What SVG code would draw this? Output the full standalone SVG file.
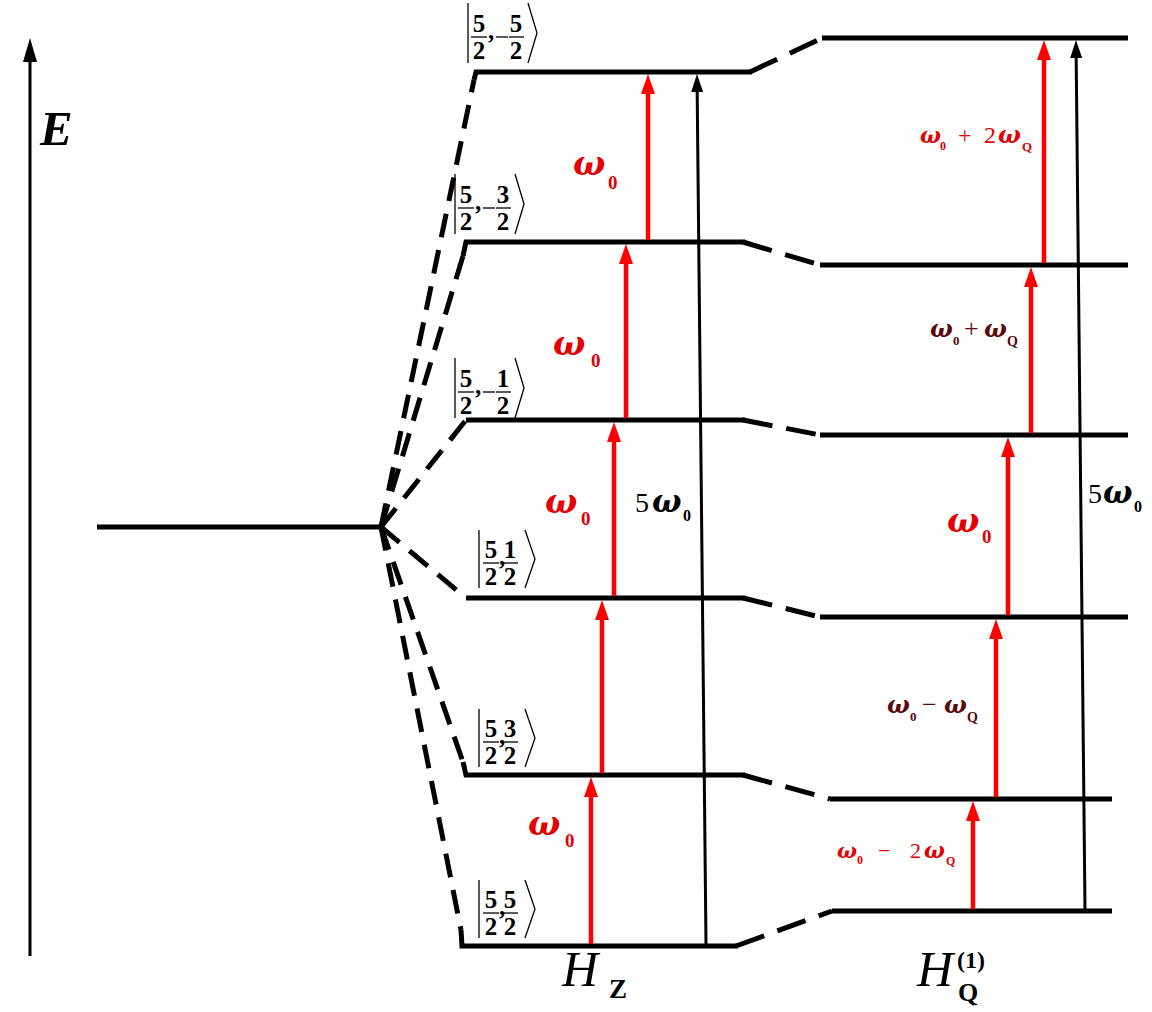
<svg xmlns="http://www.w3.org/2000/svg" width="1152" height="1012" viewBox="0 0 1152 1012">
  <style>
    text { font-family: "Liberation Serif", "Times New Roman", serif; }
    .level { stroke: #000; stroke-width: 5; fill: none; }
    .dash { stroke: #000; stroke-width: 5; fill: none; stroke-dasharray: 24 13; }
    .rdash { stroke: #000; stroke-width: 5; fill: none; stroke-dasharray: 30 14; }
    .red { stroke: #ff0000; stroke-width: 4.5; fill: none; }
    .blk { stroke: #000; stroke-width: 3; fill: none; }
    .thin { stroke: #000; stroke-width: 1.3; fill: none; }
    .kd { font-size: 25px; font-weight: bold; text-anchor: middle; }
    .w { font-family: "DejaVu Serif", "Liberation Serif", serif; font-style: italic; font-weight: bold; }
    .sub { font-weight: bold; }
    .lr { fill: #e30000; }
    .ld { fill: #5a0808; }
  </style>
  <defs>
    <marker id="ahRed" viewBox="0 0 20 14" markerWidth="20" markerHeight="14" markerUnits="userSpaceOnUse" refX="8" refY="7" orient="auto">
      <path d="M0,0 L20,7 L0,14 z" fill="#ff0000"/>
    </marker>
    <marker id="ahBlk" viewBox="0 0 18 12" markerWidth="18" markerHeight="12" markerUnits="userSpaceOnUse" refX="7" refY="6" orient="auto">
      <path d="M0,0 L18,6 L0,12 z" fill="#000"/>
    </marker>
  </defs>

  <!-- energy axis -->
  <g id="axis">
    <line x1="30" y1="956" x2="30" y2="58" stroke="#000" stroke-width="3"/>
    <path d="M23,62 L30,38 L37,62 z" fill="#000"/>
    <text x="40" y="145" font-size="49" font-style="italic" font-weight="bold">E</text>
  </g>

  <!-- unsplit level -->
  <g id="level-0">
    <line class="level" x1="97" y1="527" x2="382" y2="527"/>
  </g>

  <!-- Zeeman levels -->
  <g id="hz-m-5-2">
    <path class="level" d="M474,80 L476,72 H752"/>
    <g transform="translate(468,3)">
      <path class="thin" d="M0,0 V60"/>
      <text class="kd" x="11" y="29">5</text>
      <path class="thin" d="M3,34 H19"/>
      <text class="kd" x="11" y="56">2</text>
      <text class="kd" x="23" y="36">,</text>
      <path class="thin" d="M28,34 H40"/>
      <text class="kd" x="48" y="29">5</text>
      <path class="thin" d="M41,34 H56"/>
      <text class="kd" x="48" y="56">2</text>
      <path class="thin" d="M60,0 L69,30 L60,60"/>
    </g>
  </g>
  <g id="hz-m-3-2">
    <path class="level" d="M463,256 L466,242 H745"/>
    <g transform="translate(455,174)">
      <path class="thin" d="M0,0 V60"/>
      <text class="kd" x="11" y="29">5</text>
      <path class="thin" d="M3,34 H19"/>
      <text class="kd" x="11" y="56">2</text>
      <text class="kd" x="23" y="36">,</text>
      <path class="thin" d="M28,34 H40"/>
      <text class="kd" x="48" y="29">3</text>
      <path class="thin" d="M41,34 H56"/>
      <text class="kd" x="48" y="56">2</text>
      <path class="thin" d="M60,0 L69,30 L60,60"/>
    </g>
  </g>
  <g id="hz-m-1-2">
    <path class="level" d="M466,420 H745"/>
    <g transform="translate(455,358)">
      <path class="thin" d="M0,0 V60"/>
      <text class="kd" x="11" y="29">5</text>
      <path class="thin" d="M3,34 H19"/>
      <text class="kd" x="11" y="56">2</text>
      <text class="kd" x="23" y="36">,</text>
      <path class="thin" d="M28,34 H40"/>
      <text class="kd" x="48" y="29">1</text>
      <path class="thin" d="M41,34 H56"/>
      <text class="kd" x="48" y="56">2</text>
      <path class="thin" d="M60,0 L69,30 L60,60"/>
    </g>
  </g>
  <g id="hz-p-1-2">
    <path class="level" d="M466,598 H745"/>
    <g transform="translate(479,530)">
      <path class="thin" d="M0,0 V58"/>
      <text class="kd" x="12" y="28">5</text>
      <path class="thin" d="M4,33 H20"/>
      <text class="kd" x="12" y="55">2</text>
      <text class="kd" x="23" y="35">,</text>
      <path class="thin" d="M24,33 H39"/>
      <text class="kd" x="31" y="28">1</text>
      <text class="kd" x="31" y="55">2</text>
      <path class="thin" d="M46,0 L56,29 L46,58"/>
    </g>
  </g>
  <g id="hz-p-3-2">
    <path class="level" d="M463,762 L466,775 H745"/>
    <g transform="translate(479,709)">
      <path class="thin" d="M0,0 V58"/>
      <text class="kd" x="12" y="28">5</text>
      <path class="thin" d="M4,33 H20"/>
      <text class="kd" x="12" y="55">2</text>
      <text class="kd" x="23" y="35">,</text>
      <path class="thin" d="M24,33 H39"/>
      <text class="kd" x="31" y="28">3</text>
      <text class="kd" x="31" y="55">2</text>
      <path class="thin" d="M46,0 L56,29 L46,58"/>
    </g>
  </g>
  <g id="hz-p-5-2">
    <path class="level" d="M461,930 L462,946 H738"/>
    <g transform="translate(479,880)">
      <path class="thin" d="M0,0 V58"/>
      <text class="kd" x="12" y="28">5</text>
      <path class="thin" d="M4,33 H20"/>
      <text class="kd" x="12" y="55">2</text>
      <text class="kd" x="23" y="35">,</text>
      <path class="thin" d="M24,33 H39"/>
      <text class="kd" x="31" y="28">5</text>
      <text class="kd" x="31" y="55">2</text>
      <path class="thin" d="M46,0 L56,29 L46,58"/>
    </g>
  </g>

  <!-- quadrupole-shifted levels -->
  <g id="hq-m-5-2"><line class="level" x1="822" y1="38" x2="1128" y2="38"/></g>
  <g id="hq-m-3-2"><line class="level" x1="820" y1="265" x2="1128" y2="265"/></g>
  <g id="hq-m-1-2"><line class="level" x1="820" y1="435" x2="1128" y2="435"/></g>
  <g id="hq-p-1-2"><line class="level" x1="820" y1="617" x2="1128" y2="617"/></g>
  <g id="hq-p-3-2"><line class="level" x1="830" y1="799" x2="1112" y2="799"/></g>
  <g id="hq-p-5-2"><line class="level" x1="832" y1="911" x2="1112" y2="911"/></g>

  <g id="connectors">
    <!-- Zeeman splitting fan -->
    <line class="dash" x1="381" y1="527" x2="474" y2="80"/>
    <line class="dash" x1="381" y1="527" x2="463" y2="256"/>
    <line class="dash" x1="381" y1="527" x2="466" y2="420"/>
    <line class="dash" x1="381" y1="527" x2="466" y2="598"/>
    <line class="dash" x1="381" y1="527" x2="463" y2="762"/>
    <line class="dash" x1="381" y1="527" x2="461" y2="930"/>
    <!-- quadrupole shifts -->
    <line class="rdash" x1="750" y1="72" x2="822" y2="38"/>
    <line class="rdash" x1="743" y1="242" x2="820" y2="265"/>
    <line class="rdash" x1="743" y1="420" x2="820" y2="435"/>
    <line class="rdash" x1="743" y1="598" x2="820" y2="617"/>
    <line class="rdash" x1="743" y1="775" x2="830" y2="799"/>
    <line class="rdash" x1="736" y1="946" x2="832" y2="911"/>
    <!-- single-quantum transitions, Zeeman -->
    <line class="red" x1="591" y1="944" x2="591" y2="789" marker-end="url(#ahRed)"/>
    <line class="red" x1="602" y1="773" x2="602" y2="612" marker-end="url(#ahRed)"/>
    <line class="red" x1="614" y1="596" x2="614" y2="434" marker-end="url(#ahRed)"/>
    <line class="red" x1="626" y1="418" x2="626" y2="256" marker-end="url(#ahRed)"/>
    <line class="red" x1="648" y1="240" x2="648" y2="86" marker-end="url(#ahRed)"/>
    <!-- single-quantum transitions, quadrupole -->
    <line class="red" x1="973" y1="909" x2="973" y2="813" marker-end="url(#ahRed)"/>
    <line class="red" x1="996" y1="797" x2="996" y2="631" marker-end="url(#ahRed)"/>
    <line class="red" x1="1008" y1="615" x2="1008" y2="449" marker-end="url(#ahRed)"/>
    <line class="red" x1="1031" y1="433" x2="1031" y2="279" marker-end="url(#ahRed)"/>
    <line class="red" x1="1044" y1="263" x2="1044" y2="52" marker-end="url(#ahRed)"/>
    <!-- five-quantum transitions -->
    <line class="blk" x1="706" y1="944" x2="697.1" y2="85" marker-end="url(#ahBlk)"/>
    <line class="blk" x1="1085" y1="909" x2="1076.1" y2="51" marker-end="url(#ahBlk)"/>
  </g>

  <!-- transition labels -->
  <g id="labels">
    <text class="lr w" x="573" y="175" font-size="34">ω</text>
    <text class="lr sub" x="608" y="189" font-size="19">0</text>
    <text class="lr w" x="553" y="355" font-size="34">ω</text>
    <text class="lr sub" x="591" y="367" font-size="19">0</text>
    <text class="lr w" x="545" y="513" font-size="34">ω</text>
    <text class="lr sub" x="581" y="525" font-size="19">0</text>
    <text class="lr w" x="528" y="835" font-size="34">ω</text>
    <text class="lr sub" x="565" y="847" font-size="19">0</text>
    <text class="lr w" x="947" y="532" font-size="34">ω</text>
    <text class="lr sub" x="982" y="543" font-size="19">0</text>

    <text x="635" y="512" font-size="28">5</text>
    <text class="w" x="652" y="512" font-size="31">ω</text>
    <text class="sub" x="683" y="521" font-size="16">0</text>
    <text x="1088" y="503" font-size="28">5</text>
    <text class="w" x="1103" y="503" font-size="31">ω</text>
    <text class="sub" x="1134" y="512" font-size="16">0</text>

    <!-- quadrupole-shifted frequencies -->
    <text class="lr w" x="920" y="143" font-size="22">ω</text>
    <text class="lr sub" x="940" y="150" font-size="12">0</text>
    <text class="lr" x="958" y="143" font-size="24">+</text>
    <text class="lr" x="984" y="143" font-size="24">2</text>
    <text class="lr w" x="998" y="143" font-size="24">ω</text>
    <text class="lr sub" x="1022" y="151" font-size="13">Q</text>

    <text class="ld w" x="930" y="337" font-size="24">ω</text>
    <text class="ld sub" x="953" y="345" font-size="13">0</text>
    <text class="ld" x="964" y="337" font-size="26">+</text>
    <text class="ld w" x="984" y="337" font-size="24">ω</text>
    <text class="ld sub" x="1007" y="346" font-size="14">Q</text>

    <text class="ld w" x="887" y="713" font-size="24">ω</text>
    <text class="ld sub" x="910" y="721" font-size="13">0</text>
    <text class="ld" x="922" y="713" font-size="26">−</text>
    <text class="ld w" x="944" y="713" font-size="24">ω</text>
    <text class="ld sub" x="967" y="722" font-size="14">Q</text>

    <text class="lr w" x="837" y="858" font-size="21">ω</text>
    <text class="lr sub" x="857" y="864" font-size="12">0</text>
    <text class="lr" x="878" y="858" font-size="22">−</text>
    <text class="lr" x="910" y="858" font-size="22">2</text>
    <text class="lr w" x="924" y="858" font-size="22">ω</text>
    <text class="lr sub" x="946" y="865" font-size="12">Q</text>
  </g>

  <!-- Hamiltonian labels -->
  <g id="hz-label">
    <text x="562" y="986" font-size="50" font-style="italic">H</text>
    <text x="609" y="998" font-size="27" font-weight="bold">Z</text>
  </g>
  <g id="hq-label">
    <text x="917" y="986" font-size="50" font-style="italic">H</text>
    <text x="957" y="968" font-size="24" font-weight="bold">(1)</text>
    <text x="958" y="1001" font-size="26" font-weight="bold">Q</text>
  </g>
</svg>
